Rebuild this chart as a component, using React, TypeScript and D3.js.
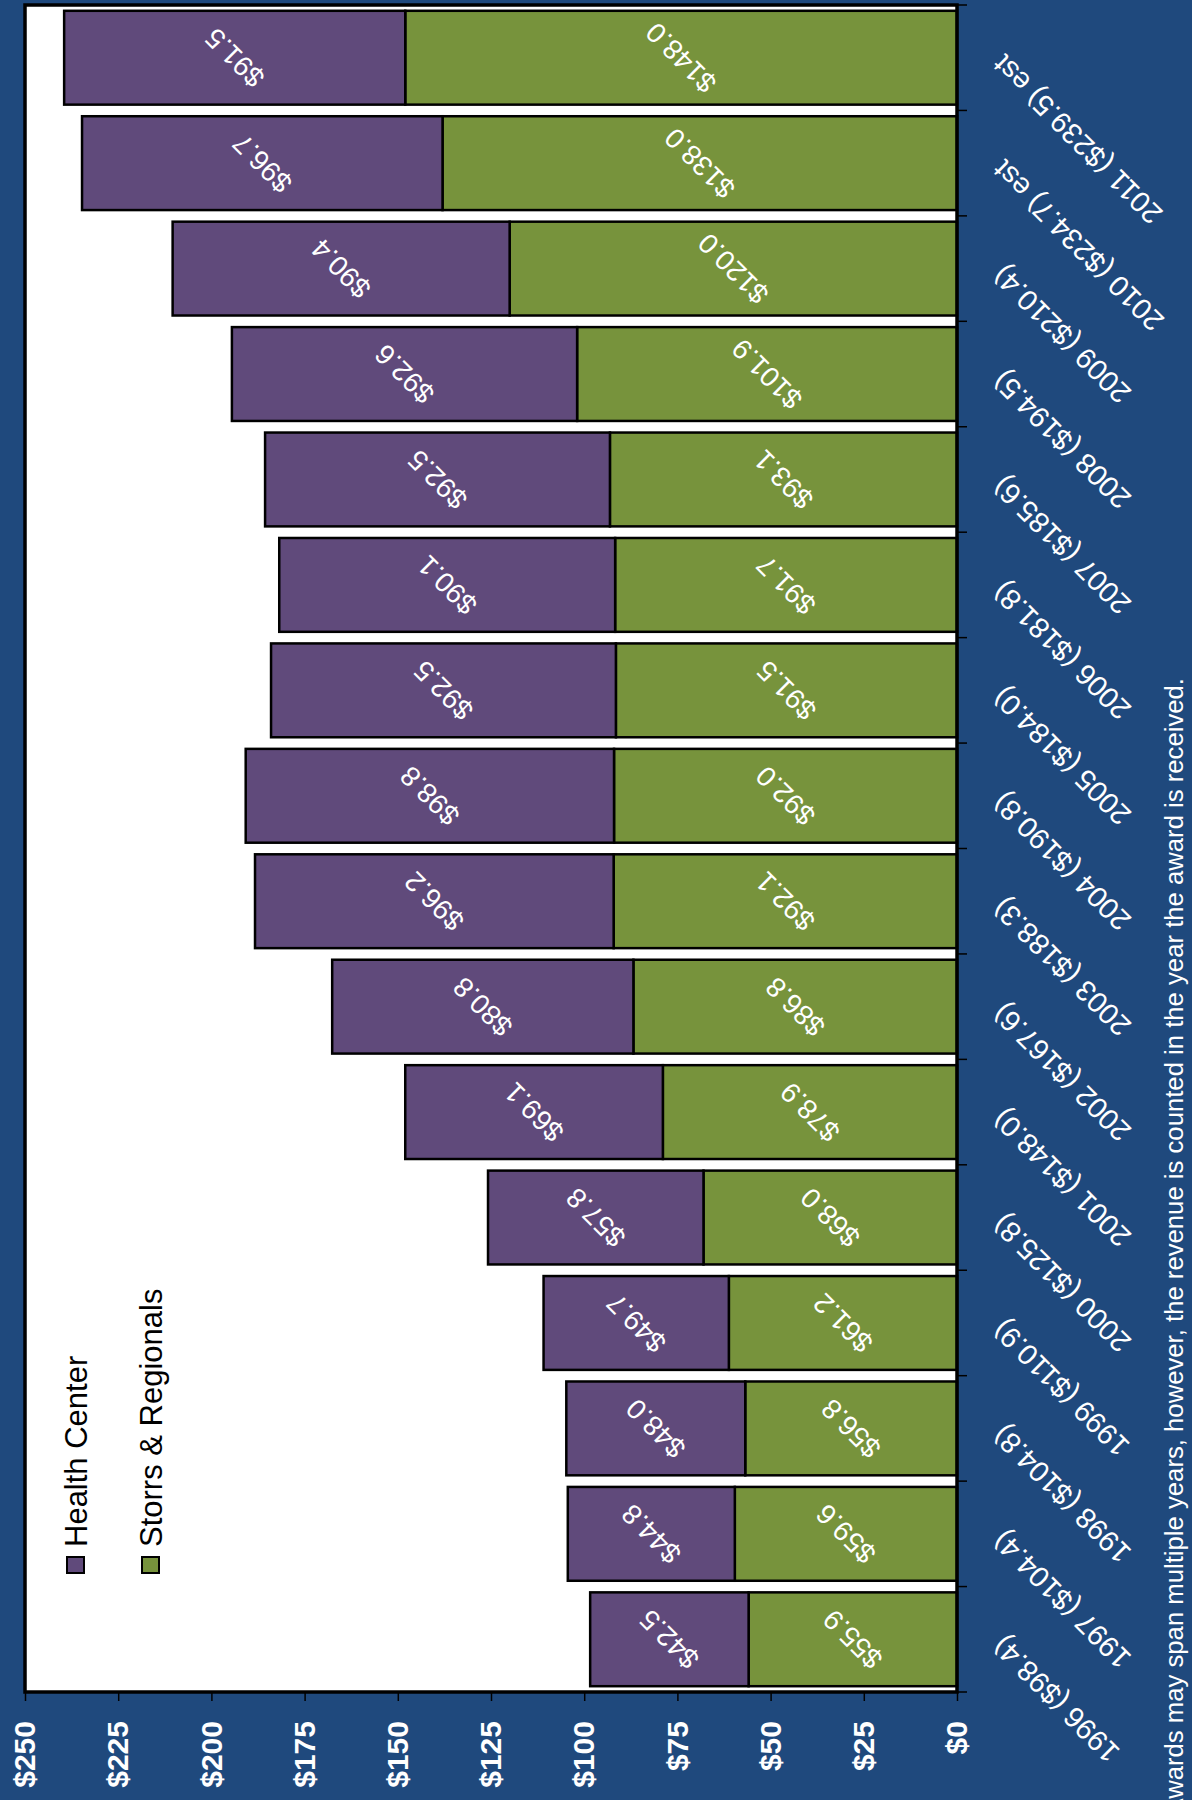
import * as d3 from "d3";
import { useEffect, useRef } from "react";

const years = [
  "1996", "1997", "1998", "1999", "2000", "2001", "2002", "2003",
  "2004", "2005", "2006", "2007", "2008", "2009", "2010", "2011",
];
const storrs = [
  55.9, 59.6, 56.8, 61.2, 68.0, 78.9, 86.8, 92.1,
  92.0, 91.5, 91.7, 93.1, 101.9, 120.0, 138.0, 148.0,
];
const health = [
  42.5, 44.8, 48.0, 49.7, 57.8, 69.1, 80.8, 96.2,
  98.8, 92.5, 90.1, 92.5, 92.6, 90.4, 96.7, 91.5,
];
const categoryLabels = [
  "1996 ($98.4)", "1997 ($104.4)", "1998 ($104.8)", "1999 ($110.9)",
  "2000 ($125.8)", "2001 ($148.0)", "2002 ($167.6)", "2003 ($188.3)",
  "2004 ($190.8)", "2005 ($184.0)", "2006 ($181.8)", "2007 ($185.6)",
  "2008 ($194.5)", "2009 ($210.4)", "2010 ($234.7) est", "2011 ($239.5) est",
];
const valueTicks = [0, 25, 50, 75, 100, 125, 150, 175, 200, 225, 250];
const seriesKeys = ["storrs", "health"];
const seriesNames = ["Storrs & Regionals", "Health Center"];
const seriesColors = ["#77933C", "#604A7B"];
const footnote =
  "Awards may span multiple years, however, the revenue is counted in the year the award is received.";

const BG = "#1F497D";
const FONT = "'Liberation Sans', Arial, sans-serif";

export default function App() {
  const ref = useRef<SVGSVGElement | null>(null);

  useEffect(() => {
    document.body.style.margin = "0";
    const el = ref.current;
    if (!el) return;

    const svg = d3.select(el);
    svg.selectAll("*").remove();

    // the chart is laid out upright, then turned a quarter turn counter-clockwise
    const W = 1800;
    const H = 1192;
    const margin = { top: 25, right: 5, bottom: 235, left: 108 };
    const plotBottom = H - margin.bottom;

    const rows = years.map((yr, i) => ({
      year: yr,
      storrs: storrs[i],
      health: health[i],
    }));

    const x = d3
      .scaleBand()
      .domain(years)
      .range([margin.left, W - margin.right])
      .paddingInner(0.11)
      .paddingOuter(0.055);
    const y = d3
      .scaleLinear()
      .domain([0, 250])
      .range([plotBottom, margin.top]);

    const stacked = d3.stack<any>().keys(seriesKeys)(rows);

    svg
      .attr("width", H)
      .attr("height", W)
      .attr("viewBox", `0 0 ${H} ${W}`)
      .style("font-family", FONT);

    svg.append("rect").attr("width", H).attr("height", W).attr("fill", BG);

    const root = svg
      .append("g")
      .attr("transform", `translate(0,${W}) rotate(-90)`);

    root
      .append("rect")
      .attr("x", margin.left)
      .attr("y", margin.top)
      .attr("width", W - margin.left - margin.right)
      .attr("height", plotBottom - margin.top)
      .attr("fill", "#fff");

    const layers = root
      .selectAll("g.layer")
      .data(stacked)
      .join("g")
      .attr("class", "layer")
      .attr("fill", (_, i) => seriesColors[i]);

    layers
      .selectAll("rect")
      .data((d) => d)
      .join("rect")
      .attr("x", (d) => x(d.data.year) ?? 0)
      .attr("width", x.bandwidth())
      .attr("y", (d) => y(d[1]))
      .attr("height", (d) => y(d[0]) - y(d[1]))
      .attr("stroke", "#000")
      .attr("stroke-width", 2.5);

    layers
      .selectAll("text")
      .data((d) => d)
      .join("text")
      .attr(
        "transform",
        (d) =>
          `translate(${(x(d.data.year) ?? 0) + x.bandwidth() / 2},${
            (y(d[0]) + y(d[1])) / 2
          }) rotate(-45)`,
      )
      .attr("text-anchor", "middle")
      .attr("dominant-baseline", "central")
      .attr("fill", "#fff")
      .attr("font-size", 28)
      .text((d) => `$${(d[1] - d[0]).toFixed(1)}`);

    // plot frame
    root
      .append("rect")
      .attr("x", margin.left)
      .attr("y", margin.top)
      .attr("width", W - margin.left - margin.right)
      .attr("height", plotBottom - margin.top)
      .attr("fill", "none")
      .attr("stroke", "#000")
      .attr("stroke-width", 3.5);

    // value axis
    root
      .append("g")
      .attr("transform", `translate(${margin.left},0)`)
      .call(
        d3
          .axisLeft(y)
          .tickValues(valueTicks)
          .tickSize(9)
          .tickPadding(20)
          .tickFormat((v) => `$${v}`),
      )
      .call((ga) => ga.select(".domain").remove())
      .call((ga) =>
        ga.selectAll(".tick line").attr("stroke", "#000").attr("stroke-width", 1.5),
      )
      .call((ga) =>
        ga
          .selectAll(".tick text")
          .attr("fill", "#fff")
          .attr("font-size", 30)
          .attr("font-weight", "bold")
          .attr("font-family", FONT),
      );

    // category ticks sit on band boundaries
    const step = x.step();
    root
      .append("g")
      .selectAll("line")
      .data(d3.range(years.length + 1))
      .join("line")
      .attr("x1", (i) => margin.left + i * step)
      .attr("x2", (i) => margin.left + i * step)
      .attr("y1", plotBottom)
      .attr("y2", plotBottom + 10)
      .attr("stroke", "#000")
      .attr("stroke-width", 1.5);

    root
      .append("g")
      .selectAll("text")
      .data(years)
      .join("text")
      .attr(
        "transform",
        (d) =>
          `translate(${(x(d) ?? 0) + x.bandwidth() / 2 + 5},${plotBottom + 48}) rotate(-45)`,
      )
      .attr("text-anchor", "end")
      .attr("fill", "#fff")
      .attr("font-size", 29)
      .text((_, i) => categoryLabels[i]);

    // legend, Health Center first
    const legend = root
      .append("g")
      .selectAll("g")
      .data([1, 0])
      .join("g")
      .attr("transform", (_, i) => `translate(227,${67 + i * 75})`);
    legend
      .append("rect")
      .attr("width", 16)
      .attr("height", 17)
      .attr("fill", (k) => seriesColors[k])
      .attr("stroke", "#000")
      .attr("stroke-width", 2);
    legend
      .append("text")
      .attr("x", 26)
      .attr("y", 20)
      .attr("fill", "#000")
      .attr("font-size", 31)
      .text((k) => seriesNames[k]);

    root
      .append("text")
      .attr("x", 1122)
      .attr("y", 1183)
      .attr("text-anchor", "end")
      .attr("fill", "#fff")
      .attr("font-size", 25.7)
      .text(footnote);
  }, []);

  return <svg ref={ref} style={{ display: "block" }} />;
}
